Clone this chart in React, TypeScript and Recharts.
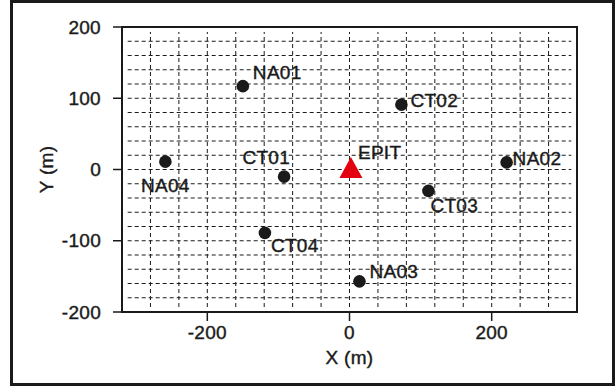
import React from "react";
import {
  ScatterChart,
  Scatter,
  XAxis,
  YAxis,
  ReferenceLine,
  ReferenceArea,
  Label,
} from "recharts";

// station positions (m)
const stationNames = ["NA01", "CT02", "NA04", "CT01", "NA02", "CT03", "CT04", "NA03"];
const stationX = [-150, 73, -259, -92, 221, 111, -119, 14];
const stationY = [117, 91, 11, -10, 10, -30, -89, -157];

// source point
const sourceNames = ["EPIT"];
const sourceX = [2];
const sourceY = [0];

const xTicks = [-200, 0, 200];
const yTicks = [-200, -100, 0, 100, 200];
const xGridValues = [-280, -240, -200, -160, -120, -80, -40, 0, 40, 80, 120, 160, 200, 240, 280];
const yGridValues = [-180, -160, -140, -120, -100, -80, -60, -40, -20, 0, 20, 40, 60, 80, 100, 120, 140, 160, 180];

const X_DOMAIN: [number, number] = [-320, 320];
const Y_DOMAIN: [number, number] = [-200, 200];
// grid lines stop a little short of the box
const GRID_X = 312;
const GRID_Y = 193;

const FONT = '"Liberation Sans", Arial, sans-serif';
const FONT_SIZE = 19;
const INK = "#1a1a1a";
// a thin outline so the text weight is closer to the original
const TEXT_STROKE = 0.4;

// label placement, pixels from the marker
const LABEL_OFFSETS: Record<string, { dx: number; dy: number; anchor: "start" | "middle" | "end" }> = {
  NA01: { dx: 10, dy: -14, anchor: "start" },
  CT02: { dx: 9, dy: -5, anchor: "start" },
  NA04: { dx: 0, dy: 23, anchor: "middle" },
  CT01: { dx: 6, dy: -19, anchor: "end" },
  EPIT: { dx: 7, dy: -17, anchor: "start" },
  NA02: { dx: 6, dy: -4, anchor: "start" },
  CT03: { dx: 2, dy: 14, anchor: "start" },
  CT04: { dx: 6, dy: 12, anchor: "start" },
  NA03: { dx: 10, dy: -10, anchor: "start" },
};

const stationData = stationNames.map((name, i) => ({ name, x: stationX[i], y: stationY[i] }));
const sourceData = sourceNames.map((name, i) => ({ name, x: sourceX[i], y: sourceY[i] }));

function PointLabel({ cx, cy, name }: { cx: number; cy: number; name: string }) {
  const o = LABEL_OFFSETS[name] ?? { dx: 8, dy: -10, anchor: "start" };
  return (
    <text
      x={cx + o.dx}
      y={cy + o.dy}
      dy="0.36em"
      textAnchor={o.anchor}
      fontFamily={FONT}
      fontSize={FONT_SIZE}
      fill={INK}
      stroke={INK}
      strokeWidth={TEXT_STROKE}
      letterSpacing={0.3}
    >
      {name}
    </text>
  );
}

function StationShape(props: any) {
  const { cx, cy, payload } = props;
  return (
    <g>
      <circle cx={cx} cy={cy} r={6.3} fill={INK} />
      <PointLabel cx={cx} cy={cy} name={payload.name} />
    </g>
  );
}

function SourceShape(props: any) {
  const { cx, cy, payload } = props;
  return (
    <g>
      <polygon
        points={`${cx},${cy - 12.5} ${cx + 11.5},${cy + 8.5} ${cx - 11.5},${cy + 8.5}`}
        fill="#e3000f"
      />
      <PointLabel cx={cx} cy={cy} name={payload.name} />
    </g>
  );
}

export default function App() {
  const tickStyle = {
    fill: INK,
    fontSize: FONT_SIZE,
    fontFamily: FONT,
    stroke: INK,
    strokeWidth: TEXT_STROKE,
    letterSpacing: 0.3,
  };
  return (
    <div style={{ position: "absolute", left: 0, top: 0, width: 616, height: 387, background: "#fff" }}>
      <div
        style={{
          position: "absolute",
          left: 10,
          top: 0,
          width: 605,
          height: 386,
          border: `3px solid ${INK}`,
          boxSizing: "border-box",
        }}
      />
      <div style={{ position: "absolute", left: 0, top: 0 }}>
        <ScatterChart
          width={616}
          height={387}
          margin={{ top: 27, right: 39, bottom: 15, left: 22 }}
        >
          <XAxis
            type="number"
            dataKey="x"
            domain={X_DOMAIN}
            ticks={xTicks}
            allowDataOverflow
            axisLine={false}
            tickLine={{ stroke: INK, strokeWidth: 1.5 }}
            tickSize={9}
            tickMargin={5}
            tick={tickStyle}
            height={60}
          >
            <Label
              content={({ viewBox }: any) => (
                <text
                  x={viewBox.x + viewBox.width / 2}
                  y={viewBox.y + 45}
                  textAnchor="middle"
                  dy="0.36em"
                  fontFamily={FONT}
                  fontSize={FONT_SIZE}
                  fill={INK}
                  stroke={INK}
                  strokeWidth={TEXT_STROKE}
                  letterSpacing={0.3}
                >
                  X (m)
                </text>
              )}
            />
          </XAxis>
          <YAxis
            type="number"
            dataKey="y"
            domain={Y_DOMAIN}
            ticks={yTicks}
            allowDataOverflow
            axisLine={false}
            tickLine={{ stroke: INK, strokeWidth: 1.5 }}
            tickSize={9}
            tickMargin={12}
            tick={tickStyle}
            width={100}
          >
            <Label
              content={({ viewBox }: any) => {
                const x = viewBox.x + 24;
                const y = viewBox.y + viewBox.height / 2;
                return (
                  <text
                    x={x}
                    y={y}
                    textAnchor="middle"
                    dy="0.36em"
                    transform={`rotate(-90 ${x} ${y})`}
                    fontFamily={FONT}
                    fontSize={FONT_SIZE}
                    fill={INK}
                    stroke={INK}
                    strokeWidth={TEXT_STROKE}
                    letterSpacing={0.3}
                  >
                    Y (m)
                  </text>
                );
              }}
            />
          </YAxis>
          {yGridValues.map((v) => (
            <ReferenceLine
              key={`h${v}`}
              segment={[
                { x: -GRID_X, y: v },
                { x: GRID_X, y: v },
              ]}
              stroke={INK}
              strokeWidth={1}
              strokeDasharray="4 3"
            />
          ))}
          {xGridValues.map((v) => (
            <ReferenceLine
              key={`v${v}`}
              segment={[
                { x: v, y: -GRID_Y },
                { x: v, y: GRID_Y },
              ]}
              stroke={INK}
              strokeWidth={1}
              strokeDasharray="4 3"
            />
          ))}
          <ReferenceArea
            x1={X_DOMAIN[0]}
            x2={X_DOMAIN[1]}
            y1={Y_DOMAIN[0]}
            y2={Y_DOMAIN[1]}
            fill="none"
            stroke={INK}
            strokeWidth={2}
            ifOverflow="visible"
          />
          <Scatter data={stationData} shape={StationShape} isAnimationActive={false} />
          <Scatter data={sourceData} shape={SourceShape} isAnimationActive={false} />
        </ScatterChart>
      </div>
    </div>
  );
}
